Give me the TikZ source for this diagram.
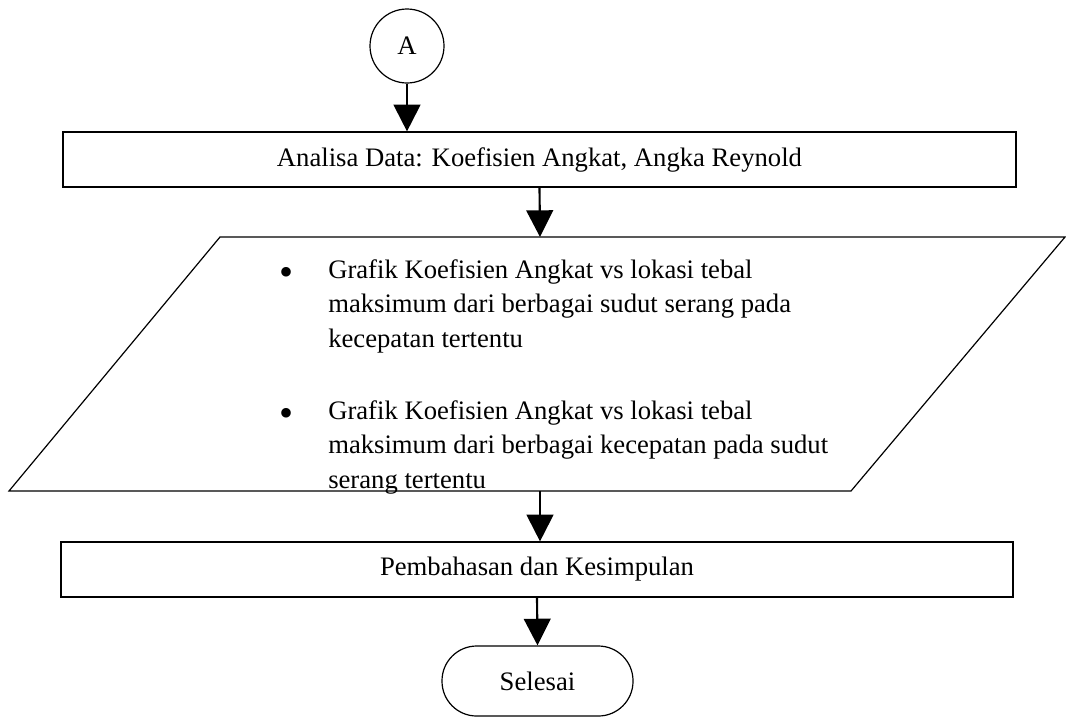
\documentclass[tikz,border=0pt]{standalone}
\usepackage{fontspec}
\setmainfont{Liberation Serif}
\usetikzlibrary{arrows.meta}
\begin{document}
\begin{tikzpicture}[x=0.75pt,y=-0.75pt,
  font=\fontsize{20}{26}\selectfont,
  shapeline/.style={draw=black, line width=0.9pt},
  procbox/.style={shapeline, rectangle, minimum height=41.25pt, inner sep=0pt},
  conn/.style={line width=1.6pt, -{Triangle[width=20pt,length=20pt]}},
  itemtext/.style={anchor=north west, align=left, inner sep=0pt},
  bul/.style={anchor=base, inner sep=0pt, font=\fontsize{30}{30}\selectfont}]
\useasboundingbox (0,0) rectangle (1066,718);

% connector circle
\node[shapeline, circle, minimum size=55.5pt, inner sep=0pt] (c) at (407,46) {A};

% process boxes
\node[procbox, minimum width=714.75pt] (r1) at (539.5,159.5) {Analisa Data: Koefisien Angkat, Angka Reynold};
\node[procbox, minimum width=714pt] (r2) at (537,569.5) {Pembahasan dan Kesimpulan};

% terminal
\node[shapeline, rectangle, rounded corners=26pt, minimum width=143.25pt, minimum height=52.5pt, inner sep=0pt] (t) at (537.5,681) {Selesai};

% data (parallelogram)
\draw[shapeline] (220,237) -- (1065,237) -- (851,491) -- (9,491) -- cycle;
\coordinate (pt) at (540,237);
\coordinate (pb) at (540,491);

\node[bul] (b1) at (286,285.5) {•};
\node[itemtext] (i1) at (328,259) {Grafik Koefisien Angkat vs lokasi tebal\\maksimum dari berbagai sudut serang pada\\kecepatan tertentu};
\node[bul] (b2) at (286,426.5) {•};
\node[itemtext] (i2) at (328,400) {Grafik Koefisien Angkat vs lokasi tebal\\maksimum dari berbagai kecepatan pada sudut\\serang tertentu};

% connectors
\draw[conn] (c.south) -- (c.south |- r1.north);
\draw[conn] (r1.south) -- (pt);
\draw[conn] (pb) -- (pb |- r2.north);
\draw[conn] (r2.south) -- (t.north);
\end{tikzpicture}
\end{document}
